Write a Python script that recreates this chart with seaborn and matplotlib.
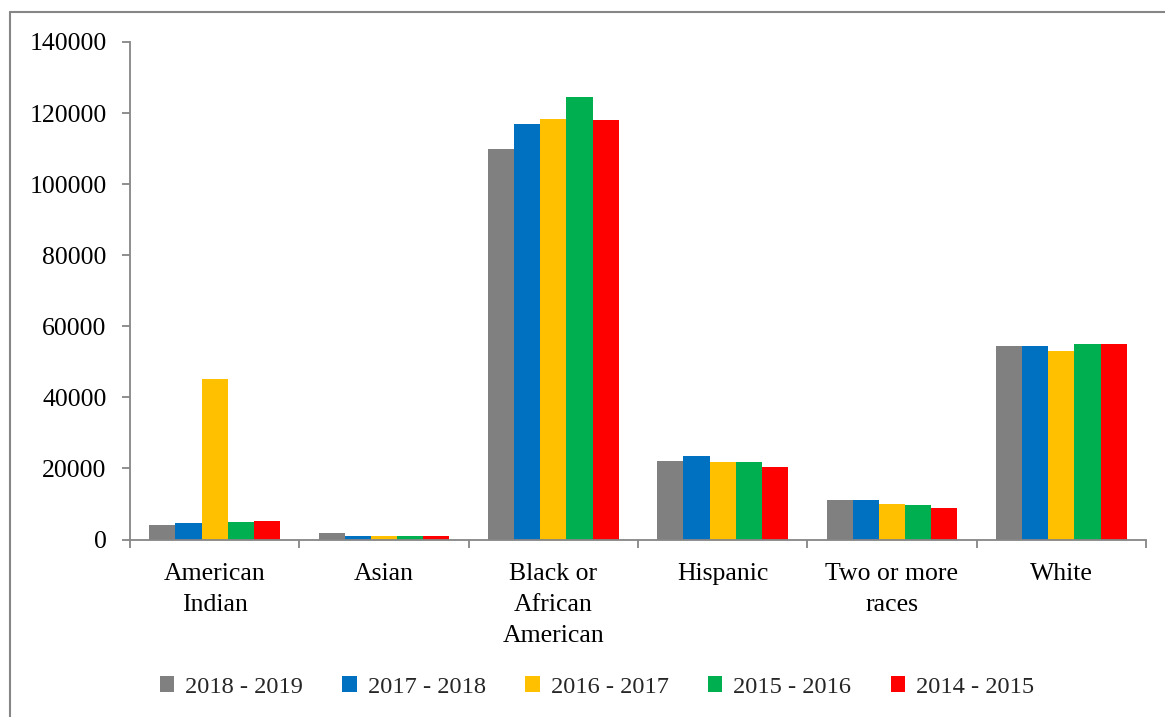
import matplotlib
matplotlib.use("Agg")
import matplotlib.pyplot as plt
from matplotlib.lines import Line2D
from matplotlib.patches import Patch
import seaborn as sns
import pandas as pd

# Enrollment counts by race/ethnicity and school year
categories = ["American\nIndian", "Asian", "Black or\nAfrican\nAmerican",
              "Hispanic", "Two or more\nraces", "White"]
years = ["2018 - 2019", "2017 - 2018", "2016 - 2017", "2015 - 2016", "2014 - 2015"]
y2018_2019 = [4100, 1900, 110000, 22100, 11100, 54400]
y2017_2018 = [4700, 1100, 116800, 23500, 11000, 54400]
y2016_2017 = [45300, 850, 118400, 21700, 10000, 53000]
y2015_2016 = [5050, 1000, 124500, 21800, 9700, 54900]
y2014_2015 = [5250, 850, 118100, 20500, 8800, 54900]
yticks = [0, 20000, 40000, 60000, 80000, 100000, 120000, 140000]
colors = ["#808080", "#0070C0", "#FFC000", "#00B050", "#FF0000"]

series = [y2018_2019, y2017_2018, y2016_2017, y2015_2016, y2014_2015]
rows = []
for yr, vals in zip(years, series):
    for cat, v in zip(categories, vals):
        rows.append({"category": cat, "year": yr, "value": v})
df = pd.DataFrame(rows)

sns.set_theme(style="white")
plt.rcParams["font.family"] = ["Liberation Serif", "DejaVu Serif"]
FS = 18.5
GRAY = "#868686"

fig = plt.figure(figsize=(11.65, 7.17), dpi=100)
ax = fig.add_axes([130 / 1165, 1 - 539.5 / 717, (1146 - 130) / 1165, (539.5 - 42) / 717])

sns.barplot(data=df, x="category", y="value", hue="year", order=categories,
            hue_order=years, palette=colors, width=0.772, gap=0,
            linewidth=0, saturation=1, legend=False, ax=ax)

ax.set_xlim(-0.5, len(categories) - 0.5)
ax.set_ylim(0, 140000)
ax.set_yticks(yticks)
ax.set_yticklabels([str(t) for t in yticks])
ax.set_xlabel("")
ax.set_ylabel("")

for side in ["top", "right"]:
    ax.spines[side].set_visible(False)
for side in ["left", "bottom"]:
    ax.spines[side].set_color(GRAY)
    ax.spines[side].set_linewidth(1.3)

ax.tick_params(axis="y", which="major", direction="out", length=5.8, width=1.3,
               color=GRAY, labelsize=FS, labelcolor="black", pad=11, left=True)
ax.tick_params(axis="x", which="major", length=0, labelsize=FS,
               labelcolor="black", pad=17)
ax.set_xticks([i - 0.5 for i in range(len(categories) + 1)], minor=True)
ax.tick_params(axis="x", which="minor", direction="out", length=5.8, width=1.3,
               color=GRAY, bottom=True)
for lbl in ax.get_xticklabels():
    lbl.set_linespacing(1.52)

handles = [Patch(facecolor=c, edgecolor="none") for c in colors]
fig.legend(handles, years, loc="center", bbox_to_anchor=(597 / 1165, 1 - 687 / 717),
           ncol=5, frameon=False, fontsize=17.6, handlelength=0.6, handleheight=0.6,
           handletextpad=0.45, columnspacing=1.6, borderaxespad=0)

# Outer frame around the chart area
fig.add_artist(Line2D([10 / 1165, 10 / 1165], [-0.05, 1 - 12 / 717],
                      transform=fig.transFigure, color=GRAY, linewidth=1.5))
fig.add_artist(Line2D([10 / 1165, 1.05], [1 - 12 / 717, 1 - 12 / 717],
                      transform=fig.transFigure, color=GRAY, linewidth=1.5))

fig.savefig("out.png", dpi=100)
